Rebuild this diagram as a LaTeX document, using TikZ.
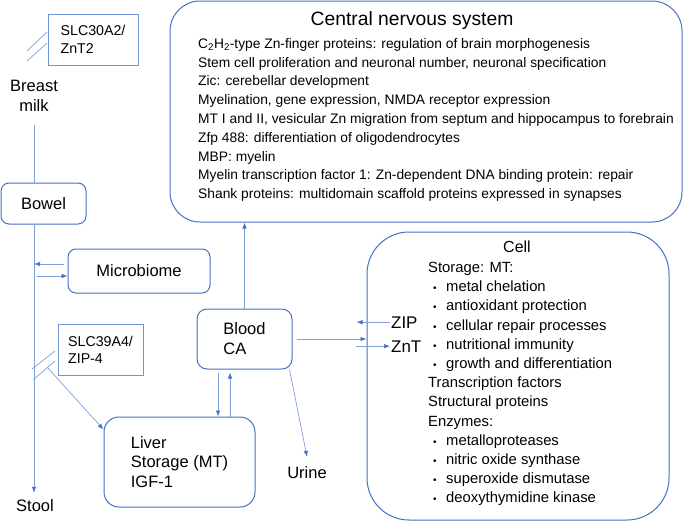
\documentclass[tikz,border=0pt]{standalone}
\usepackage{fontspec}
\setmainfont{Liberation Sans}
\usepackage{tikz}
\usetikzlibrary{arrows.meta}

\definecolor{boxblue}{RGB}{68,114,196}
\definecolor{linkblue}{RGB}{128,160,218}
\definecolor{slcblue}{RGB}{112,150,215}

\newcommand{\fs}[2]{\fontsize{#1pt}{#2pt}\selectfont}
\newcommand{\itm}{\makebox[18pt][l]{\hspace{5pt}{\fs{10}{10}\textbullet}}}

\tikzset{
  organ/.style={draw=boxblue, line width=1pt, rounded corners=#1, inner sep=0pt, align=left},
  organ/.default=8pt,
  slcbox/.style={draw=slcblue, line width=0.8pt, inner sep=0pt, align=left, font=\fs{14.2}{17.3}},
  link/.style={draw=linkblue, line width=0.7pt},
  flow/.style={link, -{Latex[length=6pt,width=4.5pt,color=boxblue]}},
  lbl/.style={inner sep=1pt, font=\fs{16.5}{20}}
}

\begin{document}
\begin{tikzpicture}[x=1pt,y=-1pt]
\useasboundingbox (0,0) rectangle (685,522);

% big boxes
\node[organ=30pt, minimum width=512pt, minimum height=221pt] (cns) at (426,111.5) {};
\node[anchor=base, inner sep=0pt, font=\fs{19.3}{22}] (cnstitle) at (412,25) {Central nervous system};
\node[anchor=north west, inner sep=0pt, align=left, font=\fs{13.8}{18.8}] (cnstext) at (198,38)
  {C\textsubscript{2}H\textsubscript{2}-type Zn-finger proteins: regulation of brain morphogenesis\\
   Stem cell proliferation and neuronal number, neuronal specification\\
   Zic: cerebellar development\\
   Myelination, gene expression, NMDA receptor expression\\
   MT I and II, vesicular Zn migration from septum and hippocampus to forebrain\\
   Zfp 488: differentiation of oligodendrocytes\\
   MBP: myelin\\
   Myelin transcription factor 1: Zn-dependent DNA binding protein: repair\\
   Shank proteins: multidomain scaffold proteins expressed in synapses};

\node[organ=42pt, minimum width=302pt, minimum height=288pt] (cell) at (518,376) {};
\node[anchor=base, inner sep=0pt, font=\fs{16}{19}] (celltitle) at (517,252) {Cell};
\node[anchor=north west, inner sep=0pt, align=left, font=\fs{14.8}{19.2}] (celltext) at (428,262)
  {Storage: MT:\\
   \itm metal chelation\\
   \itm antioxidant protection\\
   \itm cellular repair processes\\
   \itm nutritional immunity\\
   \itm growth and differentiation\\
   Transcription factors\\
   Structural proteins\\
   Enzymes:\\
   \itm metalloproteases\\
   \itm nitric oxide synthase\\
   \itm superoxide dismutase\\
   \itm deoxythymidine kinase};

% gut side
\node[slcbox, minimum width=90pt, minimum height=51pt] (znt2) at (93,39.5) {SLC30A2/\\ZnT2};
\node[lbl, align=center] (milk) at (34,96) {Breast\\milk};
\node[organ, font=\fs{16.5}{20}, minimum width=85pt, minimum height=41pt] (bowel) at (43.5,203.5) {Bowel};
\node[organ, font=\fs{16.5}{20}, minimum width=142pt, minimum height=44pt] (micro) at (139,271) {Microbiome};
\node[slcbox, minimum width=85pt, minimum height=51pt] (zip4) at (100.5,349.5) {SLC39A4/\\ZIP-4};
\node[lbl, anchor=base] (stool) at (35,511) {Stool};

\node[organ=10pt, font=\fs{16.5}{20}, minimum width=95pt, minimum height=60pt] (blood) at (244.5,339) {Blood\\CA};
\node[organ=15pt, font=\fs{16.5}{19.5}, minimum width=151pt, minimum height=90pt] (liver) at (179.5,462) {Liver\\Storage (MT)\\IGF-1};
\node[lbl, anchor=base] (urine) at (307,478) {Urine};

\node[anchor=base west, inner sep=1pt, font=\fs{16.9}{20}] (zip) at (390,328) {ZIP};
\node[anchor=base west, inner sep=1pt, font=\fs{16.9}{20}] (znt) at (390,352) {ZnT};

\coordinate (zipcut) at (47,367);

% slashes
\draw[link] (27,51) -- (47,32);
\draw[link] (27,61) -- (47,43);
\draw[link] (32,369) -- (55,351);
\draw[link] (33,380) -- (55,361);

% connectors
\draw[link] ([yshift=-12pt]milk.south) -- (milk.south |- bowel.north);
\draw[flow] (milk.south |- bowel.south) -- ([yshift=5pt]milk.south |- stool.north);
\draw[flow] ([xshift=-4pt,yshift=7pt]micro.west) -- ([yshift=7pt]micro.west -| milk.south);
\draw[flow] ([xshift=3pt,yshift=-5pt]micro.west -| milk.south) -- ([yshift=-5pt]micro.west);
\draw[flow] (zipcut) -- ([yshift=-13pt]liver.north west);

\draw[flow] (blood.north) -- (blood.north |- cns.south);
\draw[flow] ([xshift=-26.5pt,yshift=-3pt]blood.south) -- ([xshift=-26.5pt]blood.south |- liver.north);
\draw[flow] ([xshift=-14.5pt]blood.south |- liver.north) -- ([xshift=-14.5pt,yshift=-3pt]blood.south);
\draw[flow] ([xshift=4pt]blood.east) -- (blood.east -| cell.west);
\draw[flow] ([xshift=-3pt]blood.south east) -- ([yshift=8pt]urine.north);

\draw[flow] (zip.west) -- ([xshift=-10pt]zip.west -| cell.west);
\draw[flow] ([xshift=-11pt]znt.west -| cell.west) -- (znt.west);
\end{tikzpicture}
\end{document}
